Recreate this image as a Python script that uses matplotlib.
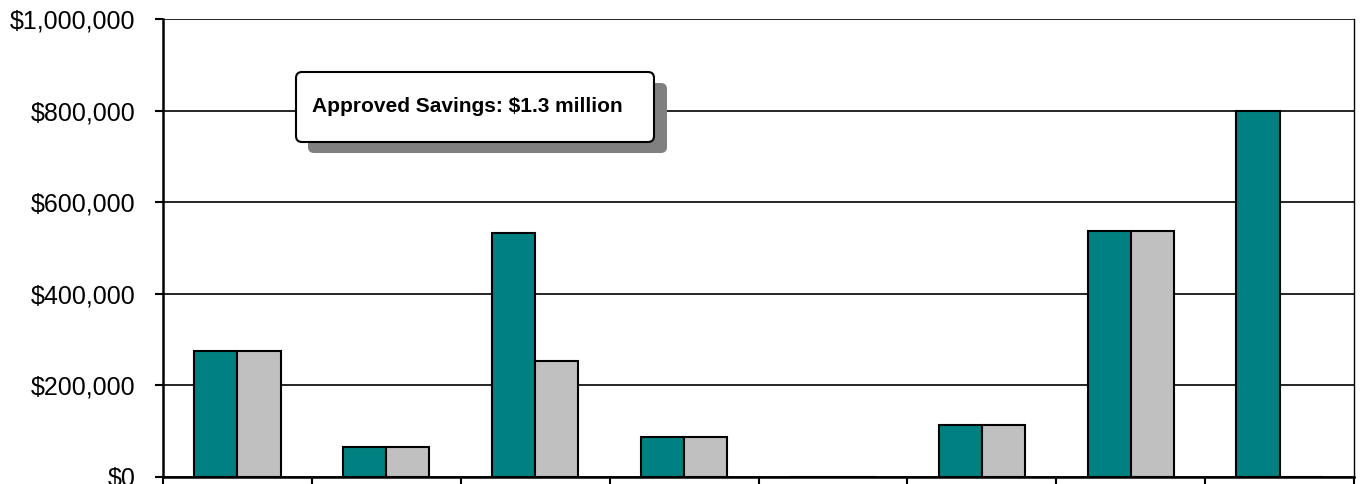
import numpy as np
import matplotlib
matplotlib.use("Agg")
import matplotlib.pyplot as plt
from matplotlib.patches import FancyBboxPatch
from matplotlib.ticker import FuncFormatter

# values
categories = ["1", "2", "3", "4", "5", "6", "7", "8"]
identified = [275000, 65000, 533000, 87000, 0, 114000, 537000, 800000]
approved = [275000, 65000, 254000, 87000, 0, 114000, 537000, 0]
y_ticks = [0, 200000, 400000, 600000, 800000, 1000000]
note = "Approved Savings: $1.3 million"

plt.rcParams['font.family'] = ['Liberation Sans', 'DejaVu Sans']

W, H, DPI = 1361, 484, 100
fig = plt.figure(figsize=(W / DPI, H / DPI), dpi=DPI)
ax = fig.add_axes([163 / W, 1 - 477 / H, (1354 - 163) / W, (477 - 19) / H])

x = np.arange(len(categories))
bw = 0.29
ax.bar(x - bw / 2, identified, bw, color="#008080", edgecolor="black", linewidth=1.5, zorder=3)
ax.bar(x + bw / 2, approved, bw, color="#C0C0C0", edgecolor="black", linewidth=1.5, zorder=3)

ax.set_xlim(-0.5, len(categories) - 0.5)
ax.set_ylim(0, 1000000)
ax.set_yticks(y_ticks)
ax.yaxis.set_major_formatter(FuncFormatter(lambda v, p: "${:,.0f}".format(v)))
ax.set_xticks(np.arange(-0.5, len(categories), 1))
ax.set_xticklabels([])

ax.grid(axis="y", color="black", linewidth=1.2, zorder=1)
ax.tick_params(axis="y", direction="out", length=6, width=1.5, pad=14, labelsize=18)
ax.tick_params(axis="x", direction="out", length=6, width=1.5)

ax.spines["top"].set_visible(False)
ax.spines["left"].set_linewidth(1.8)
ax.spines["bottom"].set_linewidth(1.8)
ax.spines["right"].set_linewidth(1.0)

# annotation box with drop shadow, placed in pixel coordinates
def px_box(x0, y0, x1, y1, fc, ec, lw, z):
    box = FancyBboxPatch((x0, H - y1), x1 - x0, y1 - y0,
                         boxstyle="round,pad=0,rounding_size=6",
                         facecolor=fc, edgecolor=ec, linewidth=lw,
                         transform=None, zorder=z)
    fig.patches.append(box)

px_box(308, 83, 667, 153, "#808080", "none", 0, 5)
px_box(296, 72, 654, 142, "white", "black", 1.5, 6)
fig.text(312 / W, 1 - 112 / H, note, fontsize=15, fontweight="bold",
         ha="left", va="baseline", zorder=7)

fig.savefig("out.png", dpi=DPI)
